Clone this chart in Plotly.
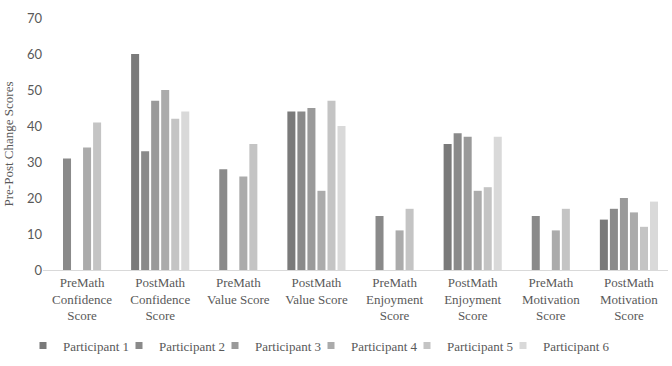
import plotly.graph_objects as go

categories = [
    "PreMath<br>Confidence<br>Score",
    "PostMath<br>Confidence<br>Score",
    "PreMath<br>Value Score",
    "PostMath<br>Value Score",
    "PreMath<br>Enjoyment<br>Score",
    "PostMath<br>Enjoyment<br>Score",
    "PreMath<br>Motivation<br>Score",
    "PostMath<br>Motivation<br>Score",
]

participant_1 = [None, 60, None, 44, None, 35, None, 14]
participant_2 = [31, 33, 28, 44, 15, 38, 15, 17]
participant_3 = [None, 47, None, 45, None, 37, None, 20]
participant_4 = [34, 50, 26, 22, 11, 22, 11, 16]
participant_5 = [41, 42, 35, 47, 17, 23, 17, 12]
participant_6 = [None, 44, None, 40, None, 37, None, 19]

series_names = ["Participant 1", "Participant 2", "Participant 3",
                "Participant 4", "Participant 5", "Participant 6"]
series_values = [participant_1, participant_2, participant_3,
                 participant_4, participant_5, participant_6]
colors = ["#7a7a7a", "#8a8a8a", "#9a9a9a", "#ababab", "#c4c4c4", "#d9d9d9"]

y_ticks = [0, 10, 20, 30, 40, 50, 60, 70]

fig = go.Figure()
for name, vals, col in zip(series_names, series_values, colors):
    fig.add_trace(go.Bar(name=name, x=categories, y=vals, marker_color=col,
                         marker_line_width=0, showlegend=False, legendgroup=name))
# legend entries with small square swatches (as in the reference)
for name, col in zip(series_names, colors):
    fig.add_trace(go.Scatter(name=name, x=[None], y=[None], mode="markers",
                             marker=dict(symbol="square", size=7, color=col),
                             legendgroup=name, showlegend=True))
# invisible spacer entry so the last legend label is not clipped
fig.add_trace(go.Scatter(name=" ", x=[None], y=[None], mode="markers",
                         marker=dict(symbol="square", size=7,
                                     color="rgba(0,0,0,0)",
                                     line=dict(width=0, color="rgba(0,0,0,0)")),
                         showlegend=True, hoverinfo="skip"))

serif = "Liberation Serif, Times New Roman, serif"
sans = "Lato, Open Sans, sans-serif"

fig.update_layout(
    width=672, height=366,
    margin=dict(l=43, r=4, t=18, b=96, autoexpand=False),
    paper_bgcolor="white", plot_bgcolor="white",
    barmode="group", bargap=0.23, bargroupgap=0.2,
    showlegend=True,
    legend=dict(orientation="h", x=-0.032, xanchor="left", y=-0.30, yanchor="middle",
                font=dict(family=serif, size=13, color="#595959"),
                itemwidth=30, entrywidth=51, entrywidthmode="pixels",
                tracegroupgap=0, traceorder="normal", itemclick=False,
                itemdoubleclick=False),
    xaxis=dict(showline=True, linecolor="#d9d9d9", linewidth=1,
               tickfont=dict(family=serif, size=13, color="#595959"),
               ticks="", showgrid=False, automargin=False),
    yaxis=dict(range=[0, 70], tickvals=y_ticks, showgrid=False, zeroline=False,
               tickfont=dict(family=sans, size=13, color="#595959"),
               title=dict(text="Pre-Post Change Scores", standoff=10,
                          font=dict(family=serif, size=13, color="#595959")),
               automargin=False),
)

fig.write_html("out.html")
